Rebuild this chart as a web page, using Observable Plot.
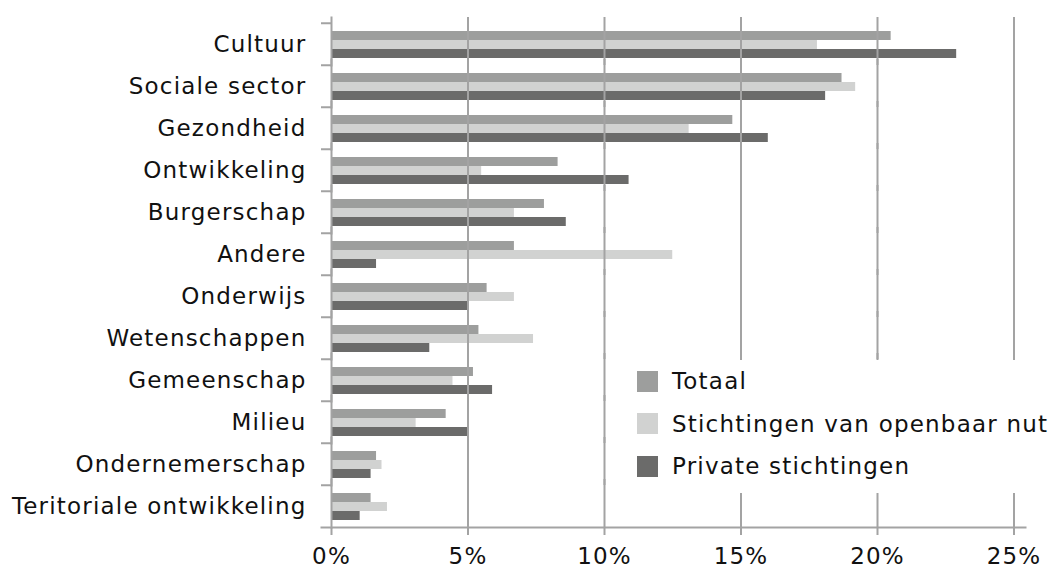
<!DOCTYPE html>
<html>
<head>
<meta charset="utf-8">
<script src="https://cdn.jsdelivr.net/npm/d3@7"></script>
<script src="https://cdn.jsdelivr.net/npm/@observablehq/plot@0.6"></script>
<style>
  body { margin: 0; background: #fff; }
  #wrap { position: relative; width: 1052px; height: 567px; font-family: "DejaVu Sans", sans-serif; }
  #wrap svg { display: block; }
  #legend { position: absolute; left: 620px; top: 360px; width: 432px; height: 133px; background: #fff; }
  #legend .row { display: flex; align-items: center; height: 42.5px; padding-left: 17px; font-size: 23px; letter-spacing: 1.2px; color: #111; white-space: nowrap; }
  #legend .sw { width: 21px; height: 21px; margin-right: 14px; flex: none; }
</style>
</head>
<body>
<div id="wrap"></div>
<script>
const categories = [
  "Cultuur", "Sociale sector", "Gezondheid", "Ontwikkeling", "Burgerschap", "Andere",
  "Onderwijs", "Wetenschappen", "Gemeenschap", "Milieu", "Ondernemerschap", "Teritoriale ontwikkeling"
];
const series = ["Totaal", "Stichtingen van openbaar nut", "Private stichtingen"];
const totaal      = [20.5, 18.7, 14.7, 8.3, 7.8, 6.7, 5.7, 5.4, 5.2, 4.2, 1.65, 1.45];
const openbaarNut = [17.8, 19.2, 13.1, 5.5, 6.7, 12.5, 6.7, 7.4, 4.45, 3.1, 1.85, 2.05];
const privateSt   = [22.9, 18.1, 16.0, 10.9, 8.6, 1.65, 5.05, 3.6, 5.9, 5.05, 1.45, 1.05];
const xTicks = [0, 5, 10, 15, 20, 25];
const colors = ["#9d9e9d", "#d1d2d1", "#6b6b6a"];
const gridColor = "#a3a3a3";

const valuesBySeries = [totaal, openbaarNut, privateSt];
const rows = [];
categories.forEach((c, i) => {
  series.forEach((s, j) => rows.push({category: c, series: s, value: valuesBySeries[j][i]}));
});

const W = 1052, H = 567, mt = 20, mb = 37, ml = 331, mr = 38.5;
const band = (H - mt - mb) / categories.length;

const plot = Plot.plot({
  width: W, height: H,
  marginTop: mt, marginBottom: mb, marginLeft: ml, marginRight: mr,
  style: {fontFamily: "DejaVu Sans", fontSize: "23px", color: "#111", letterSpacing: "1.2px", overflow: "visible", background: "#fff"},
  x: {domain: [0, 25]},
  y: {domain: series, paddingInner: 0, paddingOuter: 0.72, axis: null},
  fy: {domain: categories, padding: 0, label: null},
  color: {domain: series, range: colors},
  marks: [
    Plot.barX(rows, {fy: "category", y: "series", x: "value", fill: "series"}),
    Plot.ruleX(xTicks.filter(d => d > 0), {stroke: gridColor, strokeWidth: 2, insetTop: -6}),
    Plot.frame({anchor: "left", stroke: gridColor, strokeWidth: 2, insetTop: -6}),
    Plot.frame({anchor: "bottom", facetAnchor: "bottom", stroke: gridColor, strokeWidth: 2, insetLeft: -10, insetRight: -11.5}),
    Plot.axisFy({anchor: "left", tickSize: 10, tickFormat: () => "", dy: -band / 2, stroke: gridColor, strokeWidth: 2, strokeOpacity: 1}),
    Plot.axisFy({anchor: "left", tickSize: 0, tickPadding: 25, label: null, fill: "#111"}),
    Plot.axisX({anchor: "bottom", ticks: xTicks, tickSize: 8, tickPadding: 12, tickFormat: d => d + "%", stroke: gridColor, strokeWidth: 2, strokeOpacity: 1, label: null, fill: "#111"})
  ]
});

const wrap = document.getElementById("wrap");
wrap.appendChild(plot);

const legend = document.createElement("div");
legend.id = "legend";
series.forEach((s, i) => {
  const row = document.createElement("div");
  row.className = "row";
  const sw = document.createElement("span");
  sw.className = "sw";
  sw.style.background = colors[i];
  const t = document.createElement("span");
  t.textContent = s;
  row.appendChild(sw);
  row.appendChild(t);
  legend.appendChild(row);
});
wrap.appendChild(legend);
</script>
</body>
</html>
